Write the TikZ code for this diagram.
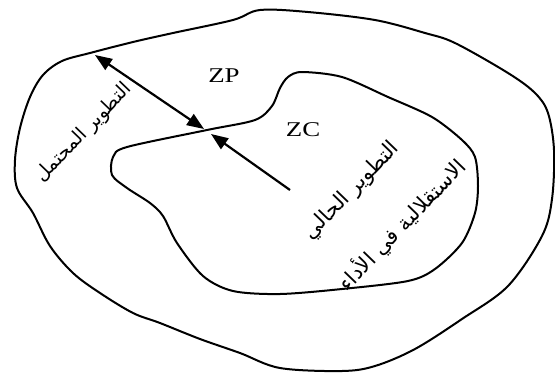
\documentclass[tikz,border=0pt]{standalone}
\usepackage{fontspec}
\setmainfont{Liberation Serif}
\newfontfamily\arabicfont[Script=Arabic]{DejaVu Sans}
\TeXXeTstate=1
\usetikzlibrary{arrows.meta}
\begin{document}
\begin{tikzpicture}[x=1pt,y=-1pt,
  curve/.style={line width=2pt, line join=round},
  tipA/.tip={Triangle[length=17pt,width=13pt]},
  arr/.style={line width=2.2pt},
  lbl/.style={font=\fontsize{21}{21}\selectfont, xscale=1.28, inner sep=0pt, text=black},
  ar/.style={font=\arabicfont\fontsize{21}{21}\selectfont, rotate=46, inner sep=0pt}]
\useasboundingbox (0,0) rectangle (555,376);
% outer region
\draw[curve] plot[smooth cycle, tension=0.55] coordinates {
  (260,10) (308,12) (375,20) (425,33) (455,43) (508,73) (535,93) (548,113)
  (554,150) (552,199) (542,236) (508,286) (462,319) (415,349) (375,366)
  (342,371) (280,368) (240,353) (200,339) (160,323) (133,313) (100,293)
  (73,273) (50,246) (33,213) (17,188) (15,160) (20,128) (30,97) (43,75) (62,61)
  (90,53) (133,42) (173,33) (233,20)};
% inner region
\draw[curve] plot[smooth cycle, tension=0.5] coordinates {
  (302,72) (288,77) (280,88) (272,106) (255,120) (207,130) (127,147)
  (113,157) (112,175) (127,188) (150,203) (163,216) (177,243) (203,276)
  (233,291) (280,294) (342,289) (408,281) (435,269) (462,243) (475,213)
  (478,186) (475,157) (462,140) (432,117) (388,97) (342,77)};
% connectors
\coordinate (outerpt) at (95,55);
\coordinate (cross) at (204,129);
\coordinate (tip2) at (211,134);
\coordinate (tail2) at (290,190);
\draw[arr, tipA-tipA] (outerpt) -- (cross);
\draw[arr, -tipA] (tail2) -- (tip2);
% labels
\node[lbl] (zp) at (224,76) {ZP};
\node[lbl] (zc) at (303,130) {ZC};
\node[ar, font=\arabicfont\fontsize{19}{19}\selectfont] (pot) at (84,133) {\beginR التطوير المحتمل\endR};
\node[ar] (cur) at (352,191) {\beginR التطوير الحالي\endR};
\node[ar] (auto) at (402,225) {\beginR الاستقلالية في الأداء\endR};
\end{tikzpicture}
\end{document}
